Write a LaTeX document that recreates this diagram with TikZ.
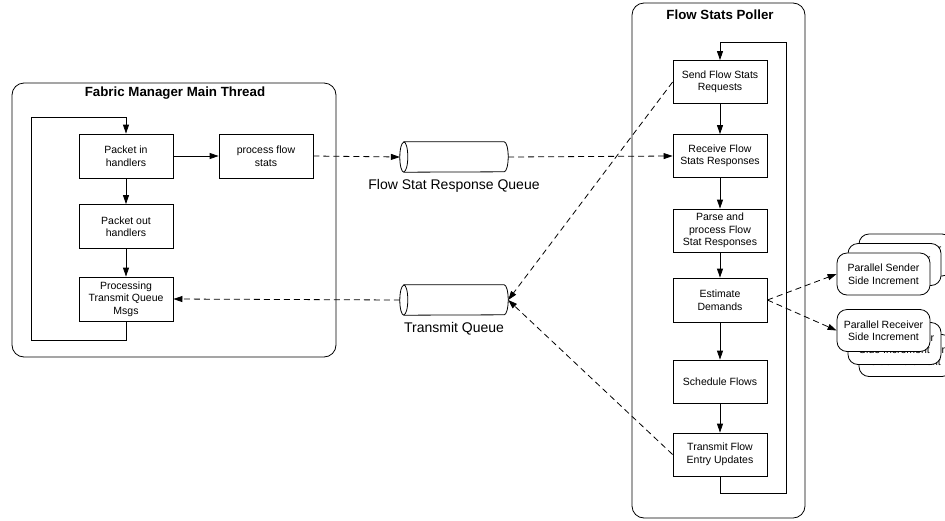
\documentclass[tikz,border=0pt]{standalone}
\usepackage{fontspec}
\setmainfont{Liberation Sans}
\usetikzlibrary{arrows.meta}
\tikzset{
  ln/.style={line width=0.8pt, draw=black},
  box/.style={ln, fill=white, minimum width=94pt, minimum height=43pt, align=center, inner sep=1pt, font=\fontsize{10.5}{12.5}\selectfont},
  par/.style={box, rounded corners=10pt, minimum width=93pt, minimum height=42pt},
  container/.style={ln, rounded corners=12pt, inner sep=0pt},
  title/.style={font=\fontsize{13.3}{15}\selectfont\bfseries},
  qlabel/.style={font=\fontsize{14}{16}\selectfont},
  qbody/.style={minimum width=108pt, minimum height=30pt, inner sep=0pt},
  arr/.style={ln, -{Triangle[length=9pt,width=6pt]}},
  darr/.style={arr, dash pattern=on 6pt off 4pt},
}
\newcommand{\mycyl}[1]{%
  \draw[ln, fill=white] ([xshift=4pt]#1.north west) -- ([xshift=-4pt]#1.north east)
    arc[start angle=90, end angle=-90, x radius=4pt, y radius=15pt]
    -- ([xshift=4pt]#1.south west)
    arc[start angle=270, end angle=90, x radius=4pt, y radius=15pt] -- cycle;
  \draw[ln] ([xshift=4pt]#1.north west) arc[start angle=90, end angle=-90, x radius=4pt, y radius=15pt];}
\begin{document}
\begin{tikzpicture}[x=1pt, y=-1pt]
\useasboundingbox (0,0) rectangle (945,520);
\clip (0,0) rectangle (945,520);

% containers
\node[container, minimum width=324pt, minimum height=274pt] (fmm) at (174,220) {};
\node[title] (fmmt) at (175,93) {Fabric Manager Main Thread};
\node[container, minimum width=173pt, minimum height=515pt] (fsp) at (718.5,260.5) {};
\node[title] (fspt) at (720,15) {Flow Stats Poller};

% left boxes
\node[box, minimum height=44pt] (pin) at (126,156) {Packet in\\handlers};
\node[box, minimum height=44pt] (pfs) at (266,156) {process flow\\stats};
\node[box, minimum height=44pt] (pout) at (126,226.5) {Packet out\\handlers};
\node[box, minimum height=44pt] (ptq) at (126,299) {Processing\\Transmit Queue\\Msgs};

% right boxes
\node[box] (send) at (720,82) {Send Flow Stats\\Requests};
\node[box] (recv) at (720,156) {Receive Flow\\Stats Responses};
\node[box] (parse) at (720,230.5) {Parse and\\process Flow\\Stat Responses};
\node[box, minimum height=44pt] (est) at (720,300) {Estimate\\Demands};
\node[box] (sched) at (720,381.5) {Schedule Flows};
\node[box] (tfe) at (720,454.5) {Transmit Flow\\Entry Updates};

% queues
\node[qbody] (frq) at (454,157) {};
\mycyl{frq}
\node[qlabel] (frql) at (454,186) {Flow Stat Response Queue};
\node[qbody] (tq) at (454,300) {};
\mycyl{tq}
\node[qlabel] (tql) at (454,329) {Transmit Queue};

% parallel stacks
\node[par] (ps2) at (905.5,255) {Parallel Sender\\Side Increment};
\node[par] (ps1) at (894.5,264.5) {Parallel Sender\\Side Increment};
\node[par] (ps) at (883.5,274) {Parallel Sender\\Side Increment};
\node[par] (pr2) at (905.5,355.5) {Parallel Receiver\\Side Increment};
\node[par] (pr1) at (894.5,343.5) {Parallel Receiver\\Side Increment};
\node[par] (pr) at (883.5,330.5) {Parallel Receiver\\Side Increment};

% loop coordinates
\coordinate (l1) at (31,340);
\coordinate (l2) at (31,117);
\coordinate (r1) at (786,493);
\coordinate (r2) at (786,42);

% left solid arrows
\draw[arr] (pin) -- (pfs);
\draw[arr] (pin) -- (pout);
\draw[arr] (pout) -- (ptq);
\draw[arr] (ptq.south) |- (l1) -- (l2) -| (pin.north);

% right solid arrows
\draw[arr] (send) -- (recv);
\draw[arr] (recv) -- (parse);
\draw[arr] (parse) -- (est);
\draw[arr] (est) -- (sched);
\draw[arr] (sched) -- (tfe);
\draw[arr] (tfe.south) |- (r1) -- (r2) -| (send.north);

% dashed arrows
\draw[darr] (pfs.east) -- (frq.west);
\draw[darr] (frq.east) -- (recv.west);
\draw[darr] (send.west) -- (tq.east);
\draw[darr] (tfe.west) -- (tq.east);
\draw[darr] (tq.west) -- (ptq.east);
\draw[darr] (est.east) -- (ps.west);
\draw[darr] (est.east) -- (pr.west);
\end{tikzpicture}
\end{document}
